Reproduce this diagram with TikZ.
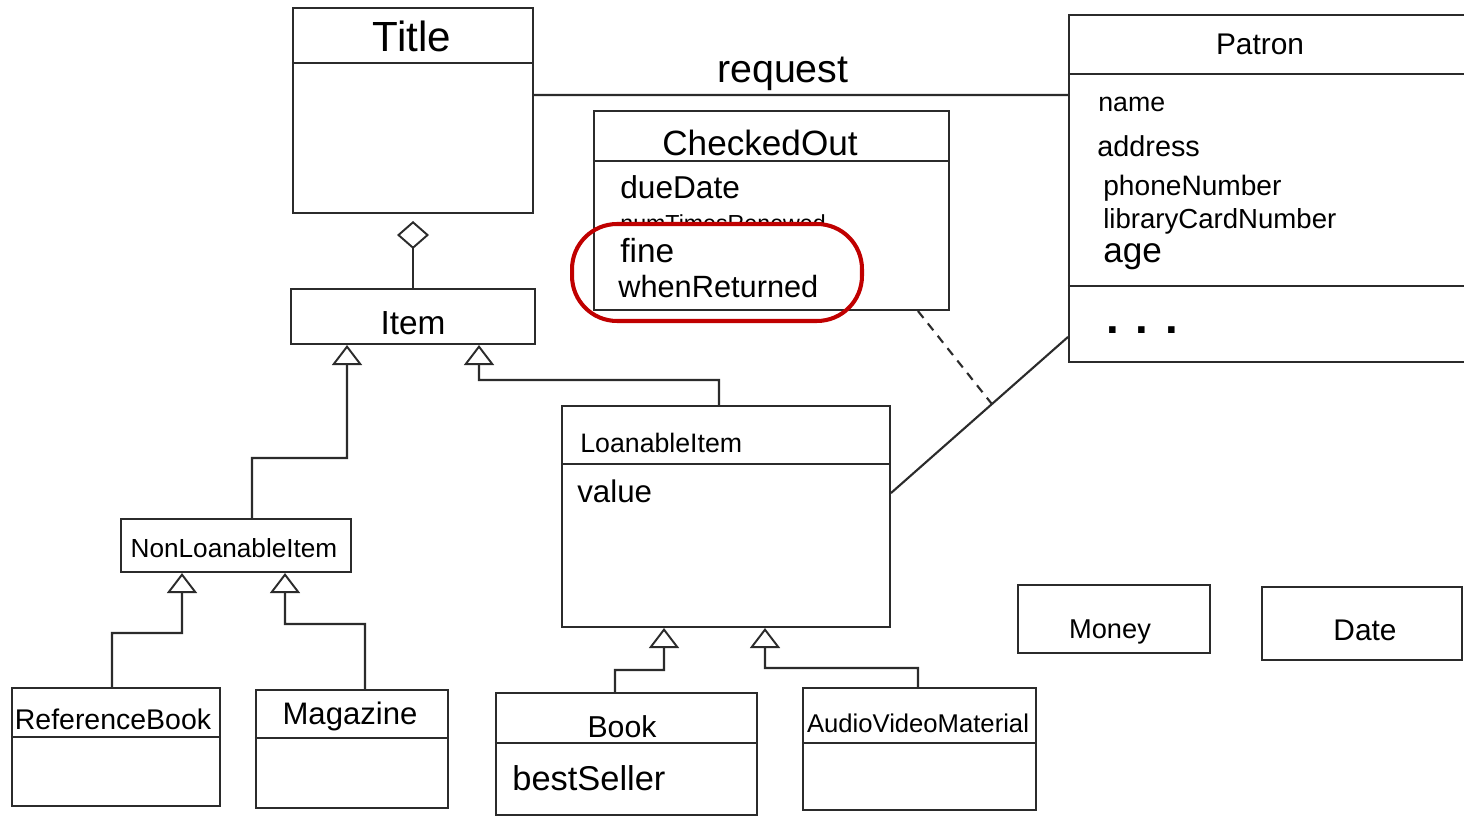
\documentclass[tikz,border=0pt]{standalone}
\usepackage{fontspec}
\setmainfont{Liberation Sans}
\usetikzlibrary{arrows.meta,calc}
\definecolor{ink}{HTML}{2B2B2B}
\definecolor{mark}{HTML}{C00000}

\begin{document}
\begin{tikzpicture}[x=0.02cm,y=-0.02cm,
  cls/.style={draw=ink,line width=1.2pt,rectangle,inner sep=0pt},
  rule/.style={draw=ink,line width=1.2pt},
  conn/.style={draw=ink,line width=1.2pt},
  gen/.style={conn,-{Triangle[open,width=0.6cm,length=0.4cm,line width=1.1pt]}},
  agg/.style={conn,-{Diamond[open,width=0.64cm,length=0.56cm,line width=1.1pt]}},
  fs/.style={font=\fontsize{#1}{#1}\selectfont},
  lbl/.style={text=black,inner sep=0pt,anchor=base},
  attr/.style={text=black,inner sep=0pt,anchor=base west},
]
% canvas
\fill[white] (0,0) rectangle (1464,817);
\useasboundingbox (0,0) rectangle (1464,817);

% ---------- class boxes ----------
\node[cls,minimum width=4.8cm,minimum height=4.1cm]   (title)   at (413,110.5) {};
\node[cls,minimum width=4.88cm,minimum height=1.1cm]  (item)    at (413,316.5) {};
\node[cls,minimum width=7.1cm,minimum height=3.98cm]  (checked) at (771.5,210.5) {};
\node[cls,minimum width=8.22cm,minimum height=6.94cm] (patron)  at (1274.5,188.5) {};
\node[cls,minimum width=6.56cm,minimum height=4.42cm] (loan)    at (726,516.5) {};
\node[cls,minimum width=4.6cm,minimum height=1.06cm]  (nonloan) at (236,545.5) {};
\node[cls,minimum width=4.16cm,minimum height=2.36cm] (refbook) at (116,747) {};
\node[cls,minimum width=3.84cm,minimum height=2.36cm] (magazine) at (352,749) {};
\node[cls,minimum width=5.22cm,minimum height=2.44cm] (book)    at (626.5,754) {};
\node[cls,minimum width=4.66cm,minimum height=2.44cm] (avm)     at (919.5,749) {};
\node[cls,minimum width=3.84cm,minimum height=1.36cm] (money)   at (1114,619) {};
\node[cls,minimum width=4.0cm,minimum height=1.46cm]  (date)    at (1362,623.5) {};

% compartment dividers
\draw[rule] (title.west |- 0,63) -- (title.east |- 0,63);
\draw[rule] (checked.west |- 0,161) -- (checked.east |- 0,161);
\draw[rule] (patron.west |- 0,74) -- (patron.east |- 0,74);
\draw[rule] (patron.west |- 0,286) -- (patron.east |- 0,286);
\draw[rule] (loan.west |- 0,464) -- (loan.east |- 0,464);
\draw[rule] (refbook.west |- 0,737) -- (refbook.east |- 0,737);
\draw[rule] (magazine.west |- 0,738) -- (magazine.east |- 0,738);
\draw[rule] (book.west |- 0,743) -- (book.east |- 0,743);
\draw[rule] (avm.west |- 0,743) -- (avm.east |- 0,743);

% ---------- class names ----------
\node[lbl,fs=24] (titleName)   at (412,52)  {Title};
\node[lbl,fs=20] (checkedName) at (760,156) {CheckedOut};
\node[lbl,fs=17] (patronName)  at (1260,55) {Patron};
\node[lbl,fs=19] (itemName)    at (413,335) {Item};
\node[attr,fs=15.2] (loanName) at (580,453) {LoanableItem};
\node[lbl,fs=14.9] (nonloanName) at (234,557) {NonLoanableItem};
\node[lbl,fs=16.2] (refbookName) at (113,729) {ReferenceBook};
\node[lbl,fs=17.7] (magazineName) at (350,724) {Magazine};
\node[lbl,fs=17.2] (bookName)  at (622,737) {Book};
\node[lbl,fs=14.6] (avmName)   at (918,732) {AudioVideoMaterial};
\node[lbl,fs=15.5] (moneyName) at (1110,638) {Money};
\node[lbl,fs=17]   (dateName)  at (1365,640) {Date};

% ---------- attributes ----------
\node[attr,fs=18] (dueDate) at (620,199) {dueDate};
\begin{scope}
  \clip (600,200) rectangle (900,225);
  \node[attr,fs=13.2] (renewed) at (620,232) {numTimesRenewed};
\end{scope}
\node[attr,fs=19] (fine) at (620,263) {fine};
\node[attr,fs=17.5] (returned) at (618,298) {whenReturned};

\node[attr,fs=15.2] (pname) at (1098,112) {name};
\node[attr,fs=16.4] (paddr) at (1097,157) {address};
\node[attr,fs=16]   (pphone) at (1103,196) {phoneNumber};
\node[attr,fs=15.7] (pcard) at (1103,229) {libraryCardNumber};
\node[attr,fs=20]   (page) at (1103,263) {age};
\node[attr,fs=26]   (pops) at (1106,334) {\textbf{. . .}};

\node[attr,fs=17.8] (value) at (577,502) {value};
\node[attr,fs=19.6] (bestSeller) at (512,790) {bestSeller};

% highlight around the two new attributes
\node[draw=mark,line width=2.3pt,rounded corners=0.9cm,
      minimum width=5.8cm,minimum height=1.94cm,inner sep=0pt] (highlight) at (717,272.5) {};

% ---------- relationships ----------
% aggregation Item -> Title
\draw[agg] (item.north) -- ([yshift=-0.14cm]title.south);

% association "request" Title -- Patron
\draw[conn] ([yshift=0.31cm]title.east) -- node[pos=0.466,above=1pt,lbl,anchor=south,fs=22.4,inner sep=1pt] (request) {request} ([yshift=1.87cm]patron.west);

% association LoanableItem -- Patron with association class CheckedOut
\draw[conn] ([yshift=0.47cm]loan.east) -- coordinate[pos=0.57] (assocPt) ([yshift=-2.97cm]patron.west);
\draw[conn,dash pattern=on 5pt off 4pt] ([xshift=2.93cm]checked.south) -- (assocPt);

% generalisations
\coordinate (elbowA) at (347,458);
\coordinate (elbowB) at (479,380);
\coordinate (elbowC) at (182,633);
\coordinate (elbowD) at (285,624);
\coordinate (elbowE) at (664,670);
\coordinate (elbowF) at (765,668);
\draw[gen] ([xshift=0.32cm]nonloan.north) |- (elbowA) -- ([xshift=-1.32cm]item.south);
\draw[gen] ([xshift=-0.14cm]loan.north) |- (elbowB) -- ([xshift=1.32cm]item.south);
\draw[gen] ([xshift=-0.08cm]refbook.north) |- (elbowC) -- ([xshift=-1.08cm]nonloan.south);
\draw[gen] ([xshift=0.26cm]magazine.north) |- (elbowD) -- ([xshift=0.98cm]nonloan.south);
\draw[gen] ([xshift=-0.23cm]book.north) |- (elbowE) -- ([xshift=-1.24cm]loan.south);
\draw[gen] ([xshift=-0.03cm]avm.north) |- (elbowF) -- ([xshift=0.78cm]loan.south);
\end{tikzpicture}
\end{document}
